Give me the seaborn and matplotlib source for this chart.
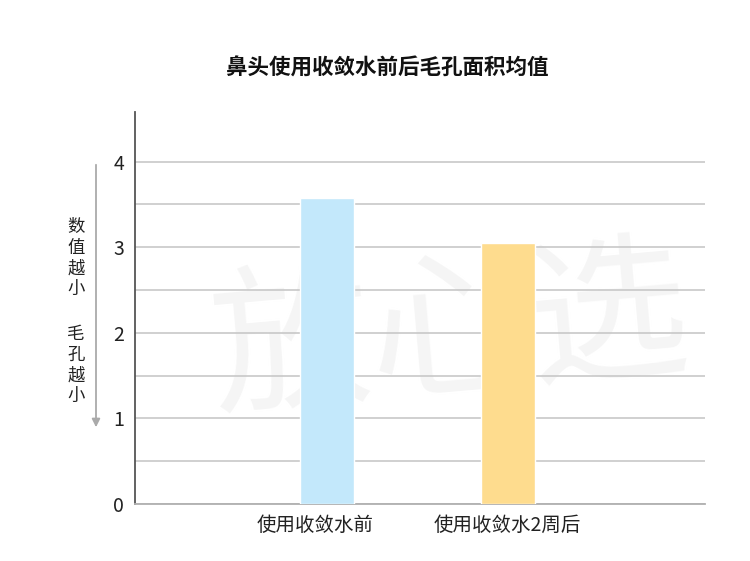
import matplotlib
matplotlib.use("Agg")
import matplotlib.pyplot as plt
import matplotlib.transforms as mtransforms
import seaborn as sns
import pandas as pd

# data
categories = ["使用收敛水前", "使用收敛水2周后"]
values = [3.58, 3.05]
bar_colors = ["#c3e8fb", "#fedc8e"]
y_ticks = [0, 1, 2, 3, 4]

sns.set_theme(style="white")
plt.rcParams['font.family'] = ['Noto Sans CJK SC', 'DejaVu Sans']

df = pd.DataFrame({"cat": categories, "val": values})

fig = plt.figure(figsize=(7.5, 5.61), dpi=100)
ax = fig.add_axes([0.18, 0.1016, 0.76, 0.6988])

# faint watermark, behind the axes
fig.text(0.6, 0.40, "放心选", fontsize=115, color="#f5f5f5", ha="center", va="center",
         rotation=5, zorder=-5)
ax.patch.set_alpha(0)

sns.barplot(data=df, x="cat", y="val", hue="cat", palette=bar_colors, width=0.3,
            legend=False, ax=ax, zorder=3, saturation=1)

ax.set_ylim(0, 4.58)
ax.set_xlim(-1.06, 2.09)
grid_vals = [i * 0.5 for i in range(9)]
ax.set_yticks(grid_vals)
ax.set_yticklabels([str(int(t)) if t in y_ticks else "" for t in grid_vals])
ax.yaxis.grid(True, color="#c8c8c8", linewidth=1.2, zorder=0)
ax.set_axisbelow(True)
ax.tick_params(axis="both", length=0, labelsize=14, colors="#222222")
ax.tick_params(axis="y", pad=8)
ax.tick_params(axis="x", pad=8)
ax.set_xlabel("")
ax.set_ylabel("")

# first category label sits a little left of its bar in the reference
lbl = ax.get_xticklabels()[0]
lbl.set_transform(lbl.get_transform() + mtransforms.ScaledTranslation(-0.12, 0, fig.dpi_scale_trans))

for s in ["top", "right"]:
    ax.spines[s].set_visible(False)
ax.spines["left"].set_color("#555555")
ax.spines["left"].set_linewidth(1.3)
ax.spines["bottom"].set_color("#b0b0b0")
ax.spines["bottom"].set_linewidth(1.3)

fig.text(387 / 750, 1 - 68 / 561, "鼻头使用收敛水前后毛孔面积均值", fontsize=15.5,
         fontweight="bold", ha="center", va="center", color="#111111")

# side note with down arrow
fig.add_artist(matplotlib.patches.FancyArrowPatch(
    (96 / 750, 1 - 162 / 561), (96 / 750, 1 - 430 / 561), transform=fig.transFigure,
    arrowstyle="-|>", mutation_scale=12, color="#aaaaaa", linewidth=1.3))
fig.text(76 / 750, 1 - 258 / 561, "数\n值\n越\n小", fontsize=12.5, ha="center", va="center",
         linespacing=1.2, color="#222222")
fig.text(76 / 750, 1 - 365 / 561, "毛\n孔\n越\n小", fontsize=12.5, ha="center", va="center",
         linespacing=1.2, color="#222222")

fig.savefig("out.png", dpi=100)
